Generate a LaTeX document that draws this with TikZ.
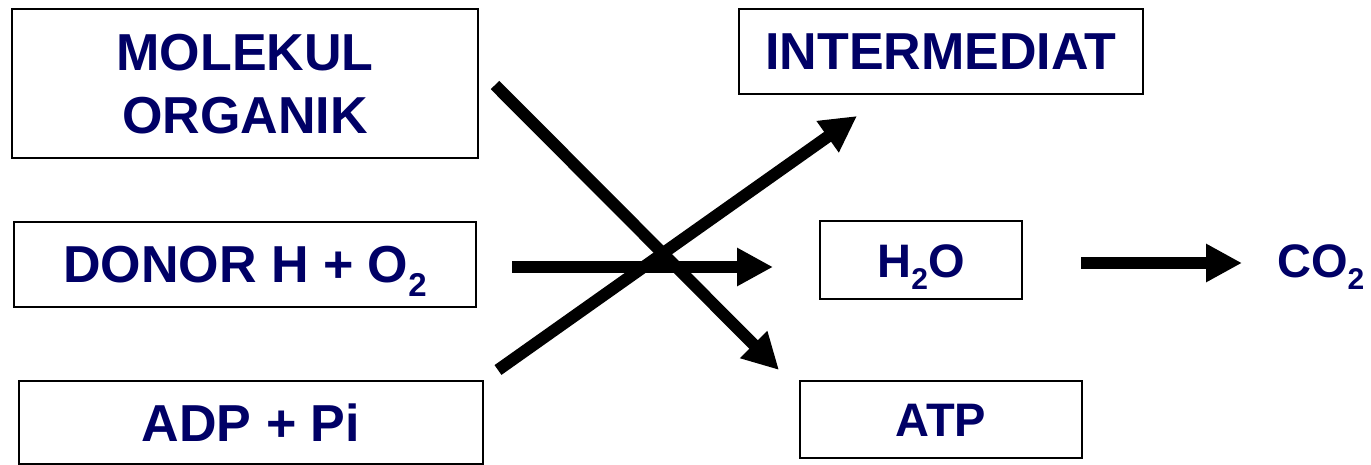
\documentclass[tikz,border=0pt]{standalone}
\usepackage{fontspec}
\setmainfont{Liberation Sans}
\usetikzlibrary{arrows.meta}
\definecolor{navytext}{HTML}{000066}
\newcommand{\subtwo}[1]{\raisebox{-0.26em}{\fontsize{#1}{#1}\selectfont 2}}
\tikzset{
  box/.style={draw=black, line width=2pt, fill=white, inner sep=0pt, align=center,
    text=navytext, font=\fontsize{52}{63}\selectfont\bfseries,
    text height=37pt, text depth=0pt},
  smallbox/.style={box, font=\fontsize{47}{56}\selectfont\bfseries, text height=34pt},
  bigarrow/.style={line width=12pt, -{Triangle[length=36pt,width=36pt]}},
  freelabel/.style={inner sep=0pt, text=navytext, font=\fontsize{47}{56}\selectfont\bfseries,
    text height=34pt, text depth=0pt}
}
\begin{document}
\begin{tikzpicture}[x=1pt,y=-1pt]
\useasboundingbox (0,0) rectangle (1371,465);
% boxes
\node[box, minimum width=466pt, minimum height=149pt, text height=100pt] (mol) at (245,83.5)
  {MOLEKUL\\ORGANIK};
\node[box, minimum width=462pt, minimum height=85pt] (donor) at (245,264.5)
  {DONOR H + O\subtwo{33}};
\node[box, minimum width=464pt, minimum height=83pt] (adp) at (251,422.5)
  {ADP + Pi};
\node[box, minimum width=404pt, minimum height=85pt] (inter) at (941,51.5)
  {INTERMEDIAT};
\node[smallbox, minimum width=202pt, minimum height=78pt] (water) at (921,260)
  {H\subtwo{30}O};
\node[smallbox, minimum width=282pt, minimum height=77pt] (atp) at (941,419.5)
  {ATP};
\node[freelabel, anchor=west] (co2) at (1277,260) {CO\subtwo{30}};
% arrow end points
\coordinate (m1) at (495,85);
\coordinate (m2) at (779,370);
\coordinate (a1) at (498,370);
\coordinate (a2) at (857,116);
\coordinate (d1) at (512,267);
\coordinate (d2) at (773,267);
\coordinate (w1) at (1081,263);
\coordinate (w2) at (1242,263);
% arrows
\draw[bigarrow] (m1) -- (m2);
\draw[bigarrow] (a1) -- (a2);
\draw[bigarrow] (d1) -- (d2);
\draw[bigarrow] (w1) -- (w2);
\end{tikzpicture}
\end{document}
